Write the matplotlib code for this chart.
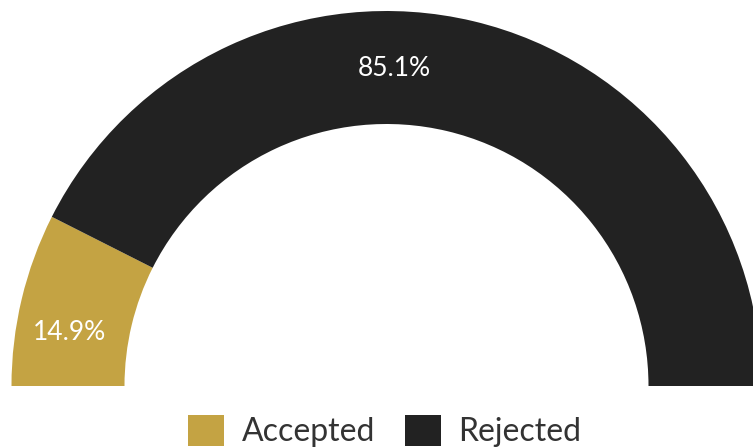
import matplotlib
matplotlib.use("Agg")
import matplotlib.pyplot as plt
from matplotlib.patches import Patch

labels = ["Accepted", "Rejected"]
values = [14.9, 85.1]
colors = ["#C4A343", "#222222"]

plt.rcParams['font.family'] = ['Lato', 'DejaVu Sans']

fig = plt.figure(figsize=(7.53, 4.47), dpi=100)
ax = fig.add_axes([0, 0, 1, 1])

# half donut: add an invisible wedge for the bottom half
wedges, _ = ax.pie(
    values + [sum(values)],
    colors=colors + ["none"],
    startangle=180, counterclock=False,
    center=(386.5, 61), radius=375,
    wedgeprops=dict(width=113, linewidth=0),
    frame=True,
)
ax.set_xlim(0, 753)
ax.set_ylim(0, 447)
ax.set_aspect('equal')
ax.axis('off')

label_pos = [(70, 447 - 333), (394, 447 - 69)]
for (x, y), v in zip(label_pos, values):
    ax.text(x, y, f"{v}%", color="white", fontsize=19,
            ha="center", va="center", zorder=10)

handles = [Patch(facecolor=c, edgecolor="none") for c in colors]
fig.legend(handles, labels, loc="lower center", bbox_to_anchor=(0.511, -0.04),
           ncol=2, frameon=False, handlelength=1.12, handleheight=1.12,
           handletextpad=0.55, columnspacing=0.95, labelcolor="#333333",
           borderpad=0.05, prop=dict(size=23))

fig.savefig("out.png", dpi=100)
